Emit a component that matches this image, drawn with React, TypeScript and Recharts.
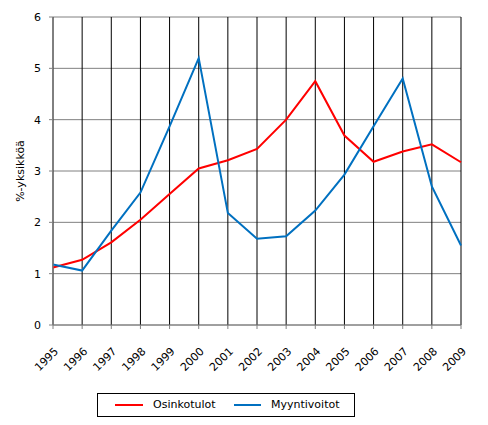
import React from 'react'
import { LineChart, Line, XAxis, YAxis, CartesianGrid, Legend } from 'recharts'

const years = ['1995', '1996', '1997', '1998', '1999', '2000', '2001', '2002', '2003', '2004', '2005', '2006', '2007', '2008', '2009']
const osinkotulot = [1.12, 1.27, 1.61, 2.05, 2.55, 3.05, 3.21, 3.43, 4.0, 4.75, 3.69, 3.18, 3.38, 3.52, 3.17]
const myyntivoitot = [1.18, 1.06, 1.84, 2.58, 3.87, 5.2, 2.18, 1.68, 1.73, 2.23, 2.93, 3.87, 4.8, 2.7, 1.55]
const yTicks = [0, 1, 2, 3, 4, 5, 6]

const seriesNames = { osinkotulot: 'Osinkotulot', myyntivoitot: 'Myyntivoitot' }
const RED = '#ff0000'
const BLUE = '#0070c0'
const FONT = '"DejaVu Sans", Verdana, sans-serif'

const data = years.map((year, i) => ({
  year,
  osinkotulot: osinkotulot[i],
  myyntivoitot: myyntivoitot[i],
}))

// rotated year labels like Excel
const YearTick = (props: any) => {
  const { x, y, payload } = props
  const bx = x + 6
  const by = y + 21
  return (
    <text
      x={bx}
      y={by}
      textAnchor="end"
      fontSize={11}
      fontFamily={FONT}
      fill="#000"
      transform={`rotate(-45 ${bx} ${by})`}
    >
      {payload.value}
    </text>
  )
}

const LegendBox = () => (
  <div
    style={{
      width: 256,
      height: 22,
      border: '1px solid #000',
      position: 'relative',
      fontFamily: FONT,
      fontSize: 11,
      background: '#fff',
    }}
  >
    <div style={{ position: 'absolute', left: 17, top: 10, width: 28, height: 2, background: RED }} />
    <span style={{ position: 'absolute', left: 55, top: 4 }}>{seriesNames.osinkotulot}</span>
    <div style={{ position: 'absolute', left: 136, top: 10, width: 27, height: 2, background: BLUE }} />
    <span style={{ position: 'absolute', left: 173, top: 4 }}>{seriesNames.myyntivoitot}</span>
  </div>
)

export default function App() {
  return (
    <div style={{ position: 'absolute', left: 0, top: 0, width: 488, height: 425, background: '#fff' }}>
      <LineChart width={488} height={425} data={data} margin={{ top: 17, right: 27, bottom: 0, left: 0 }}>
        <CartesianGrid vertical={false} stroke="#808080" strokeWidth={1} />
        <CartesianGrid horizontal={false} stroke="#000" strokeWidth={1} />
        <XAxis
          dataKey="year"
          height={100}
          interval={0}
          padding={{ left: 0, right: 0 }}
          stroke="#808080"
          tickSize={4}
          tick={<YearTick />}
        />
        <YAxis
          width={53}
          domain={[0, 6]}
          ticks={yTicks}
          interval={0}
          stroke="#808080"
          tickSize={4}
          tickMargin={8}
          tick={{ fontSize: 11, fontFamily: FONT, fill: '#000' }}
          label={{
            content: () => (
              <text
                x={24}
                y={171}
                textAnchor="middle"
                fontSize={11}
                fontFamily={FONT}
                fill="#000"
                transform="rotate(-90 24 171)"
              >
                %-yksikköä
              </text>
            ),
          }}
        />
        <Line
          type="linear"
          dataKey="osinkotulot"
          name={seriesNames.osinkotulot}
          stroke={RED}
          strokeWidth={2}
          dot={false}
          isAnimationActive={false}
        />
        <Line
          type="linear"
          dataKey="myyntivoitot"
          name={seriesNames.myyntivoitot}
          stroke={BLUE}
          strokeWidth={2}
          dot={false}
          isAnimationActive={false}
        />
        <Legend
          layout="horizontal"
          verticalAlign="middle"
          align="center"
          content={<LegendBox />}
          wrapperStyle={{ top: 393, left: 97, width: 258, height: 24 }}
        />
      </LineChart>
    </div>
  )
}
